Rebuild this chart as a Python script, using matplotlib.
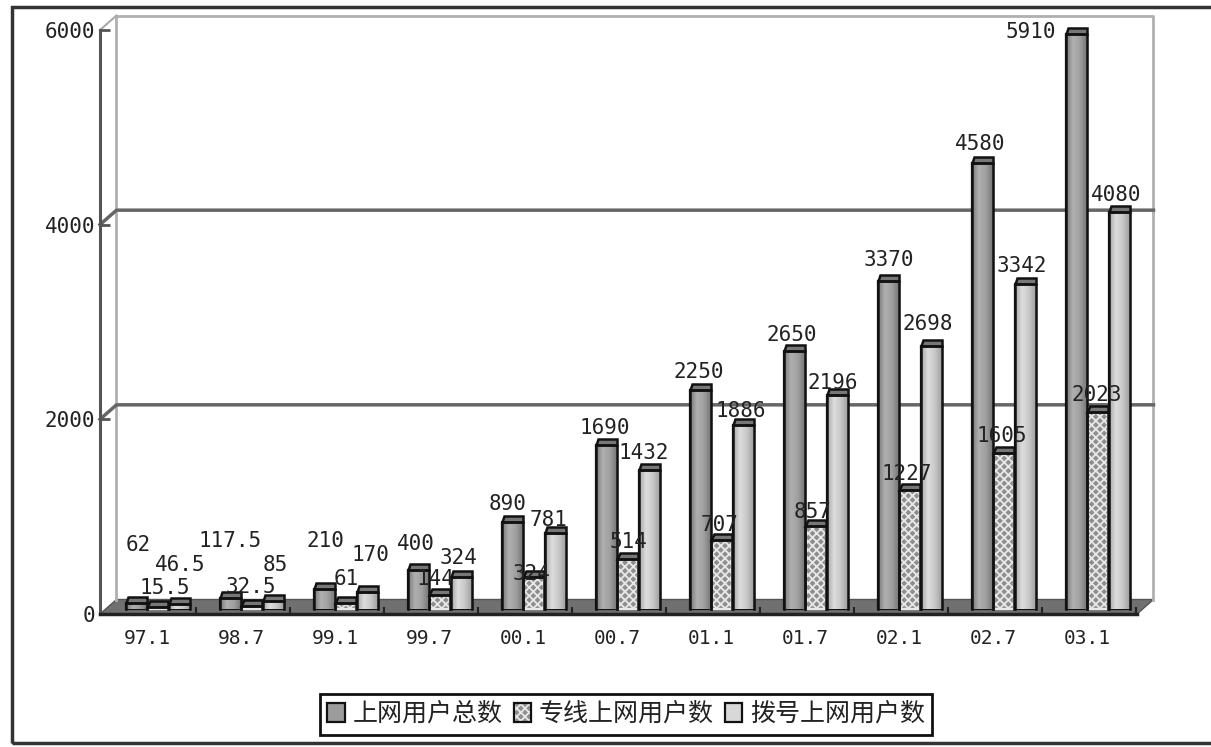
import numpy as np
import matplotlib
matplotlib.use('Agg')
import matplotlib.pyplot as plt
from matplotlib.colors import LinearSegmentedColormap
from matplotlib.legend_handler import HandlerTuple
from matplotlib.patches import Patch, Polygon, Rectangle

W, H = 1211, 747

months = ['97.1', '98.7', '99.1', '99.7', '00.1', '00.7', '01.1', '01.7', '02.1', '02.7', '03.1']
total = [62, 117.5, 210, 400, 890, 1690, 2250, 2650, 3370, 4580, 5910]
leased = [15.5, 32.5, 61, 144, 324, 514, 707, 857, 1227, 1605, 2023]
dialup = [46.5, 85, 170, 324, 781, 1432, 1886, 2196, 2698, 3342, 4080]

total_txt = ['62', '117.5', '210', '400', '890', '1690', '2250', '2650', '3370', '4580', '5910']
leased_txt = ['15.5', '32.5', '61', '144', '324', '514', '707', '857', '1227', '1605', '2023']
dialup_txt = ['46.5', '85', '170', '324', '781', '1432', '1886', '2196', '2698', '3342', '4080']

names = ['上网用户总数', '专线上网用户数', '拨号上网用户数']

# hand placed label offsets in pixels from the bar top
total_off = [(2, 58), (0, 57), (1, 48), (-2, 26), (-4, 18), (-1, 17), (-1, 18), (-2, 16), (1, 21), (-2, 19), (-45, 2)]
leased_off = [(7, 19), (-1, 19), (1, 24), (-4, 16), (-2, 3), (1, 17), (-2, 15), (-3, 14), (-3, 16), (-2, 17), (-1, 17)]
dialup_off = [(1, 39), (2, 36), (3, 37), (-3, 19), (-6, 13), (-5, 17), (-2, 14), (-4, 12), (-3, 22), (-3, 18), (-3, 17)]

mono = 'DejaVu Sans Mono'
plt.rcParams['font.family'] = ['Noto Sans CJK SC', 'DejaVu Sans']


def axes_px(left, right, top, bottom):
    return [left / W, 1 - bottom / H, (right - left) / W, (bottom - top) / H]


fig = plt.figure(figsize=(W / 100, H / 100), dpi=100, facecolor='white')
fig.add_artist(Rectangle((12 / W, 1 - 743 / H), 1.1, 736 / H, transform=fig.transFigure,
                         fill=False, edgecolor='#333333', linewidth=2.5))

# frame axes: front plane, 0 at the front floor edge
ax = fig.add_axes(axes_px(100, 1137, 30, 614))
x = np.arange(len(months))
xlim = (-0.612, 10.42)
ylim = (0, 6000)
ax.set_xlim(xlim)
ax.set_ylim(ylim)
ax.patch.set_visible(False)
for s in ['top', 'right']:
    ax.spines[s].set_visible(False)
ax.spines['left'].set_color('#555555')
ax.spines['left'].set_linewidth(2.2)
ax.spines['bottom'].set_color('#222222')
ax.spines['bottom'].set_linewidth(2.5)

dx = 16.5 / 94
dy = 14.5 / (584 / 6000)

# floor and walls
ax.add_patch(Polygon([(xlim[0], 0), (xlim[0] + dx, dy), (xlim[1] + dx, dy), (xlim[1], 0)],
                     closed=True, facecolor='#707070', edgecolor='#555555', zorder=1, clip_on=False))
ax.plot([xlim[0] + dx, xlim[0] + dx, xlim[1] + dx, xlim[1] + dx], [dy, 6000 + dy, 6000 + dy, dy],
        color='#b0b0b0', lw=2, clip_on=False, zorder=1)
ax.plot([xlim[0], xlim[0] + dx], [6000, 6000 + dy], color='#aaaaaa', lw=1.5, clip_on=False, zorder=1)
for v in [2000, 4000]:
    ax.plot([xlim[0], xlim[0] + dx, xlim[1] + dx], [v, v + dy, v + dy], color='#666666', lw=2.5,
            clip_on=False, zorder=1)

ax.set_yticks([0, 2000, 4000, 6000])
ax.tick_params(axis='y', direction='in', length=7, width=2, color='#555555', pad=3.5, labelsize=15,
               labelcolor='#222222')
for t in ax.get_yticklabels():
    t.set_fontfamily(mono)
ax.set_xticks(x - 0.11)
ax.set_xticklabels(months, fontfamily=mono, fontsize=14, color='#222222')
ax.tick_params(axis='x', length=0, pad=11)
ax.set_xticks(-0.59 + np.arange(1, len(months) + 1), minor=True)
ax.tick_params(axis='x', which='minor', direction='in', length=5, width=1.5, color='#222222')

# bar axes: sits a little behind the front plane
bx = fig.add_axes(axes_px(100, 1137, 25, 609))
bx.set_xlim(xlim)
bx.set_ylim(ylim)
bx.axis('off')

width = 21 / 94
gap = 21.5 / 94
cm_total = LinearSegmentedColormap.from_list('t', ['#7a7a7a', '#b0b0b0', '#a0a0a0', '#787878'])
cm_dial = LinearSegmentedColormap.from_list('d', ['#a8a8a8', '#dddddd', '#c8c8c8', '#a0a0a0'])
grad = np.linspace(0, 1, 32).reshape(1, -1)


def draw_series(values, pos, label, face, edge, cmap=None, hatch=None):
    bars = bx.bar(pos, values, width, color=face, edgecolor=edge, linewidth=1.6,
                  hatch=hatch, label=label, zorder=3, clip_on=False)
    for b, v in zip(bars, values):
        x0 = b.get_x()
        x1 = x0 + b.get_width()
        if cmap is not None:
            im = bx.imshow(grad, extent=(x0, x1, 0, v), aspect='auto', cmap=cmap, zorder=3.1)
            im.set_clip_path(b)
        cap_x = 2.5 / 94
        cap_y = 6 / (584 / 6000)
        bx.add_patch(Polygon([(x0, v), (x1, v), (x1, v + cap_y), (x0 + cap_x, v + cap_y)], closed=True,
                             facecolor='#777777', edgecolor='#111111', linewidth=1.8, zorder=3.2, clip_on=False))
        bx.plot([x0, x0, x1, x1], [0, v, v, 0], color='#111111', lw=1.8, zorder=3.3, clip_on=False)
    return bars


plt.rcParams['hatch.linewidth'] = 1.3
h1 = draw_series(total, x - gap, names[0], '#9c9c9c', '#111111', cmap=cm_total)
h2 = draw_series(leased, x, names[1], '#8e8e8e', '#e8e8e8', hatch='xxxx')
h3 = draw_series(dialup, x + gap, names[2], '#d8d8d8', '#111111', cmap=cm_dial)
bx.set_xlim(xlim)
bx.set_ylim(ylim)

for vals, txts, offs, pos in [(total, total_txt, total_off, x - gap),
                              (leased, leased_txt, leased_off, x),
                              (dialup, dialup_txt, dialup_off, x + gap)]:
    for v, s, o, p in zip(vals, txts, offs, pos):
        bx.annotate(s, (p, v), xytext=o, textcoords='offset pixels', ha='center', va='center',
                    fontfamily=mono, fontsize=15, color='#222222', zorder=5, annotation_clip=False)

outline = Patch(fill=False, edgecolor='#111111', linewidth=1.6)
leg = fig.legend(handles=[h1, (h2, outline), h3], labels=names, ncol=3, loc='center',
                 bbox_to_anchor=(626 / W, 1 - 714 / H), frameon=True, fancybox=False, edgecolor='#111111',
                 framealpha=1, fontsize=18, handlelength=0.7, handleheight=0.8, handletextpad=0.3,
                 columnspacing=0.45, borderpad=0.3, labelcolor='#222222',
                 handler_map={tuple: HandlerTuple(ndivide=1, pad=0)})
leg.get_frame().set_linewidth(2)

fig.savefig('out.png', dpi=100)
